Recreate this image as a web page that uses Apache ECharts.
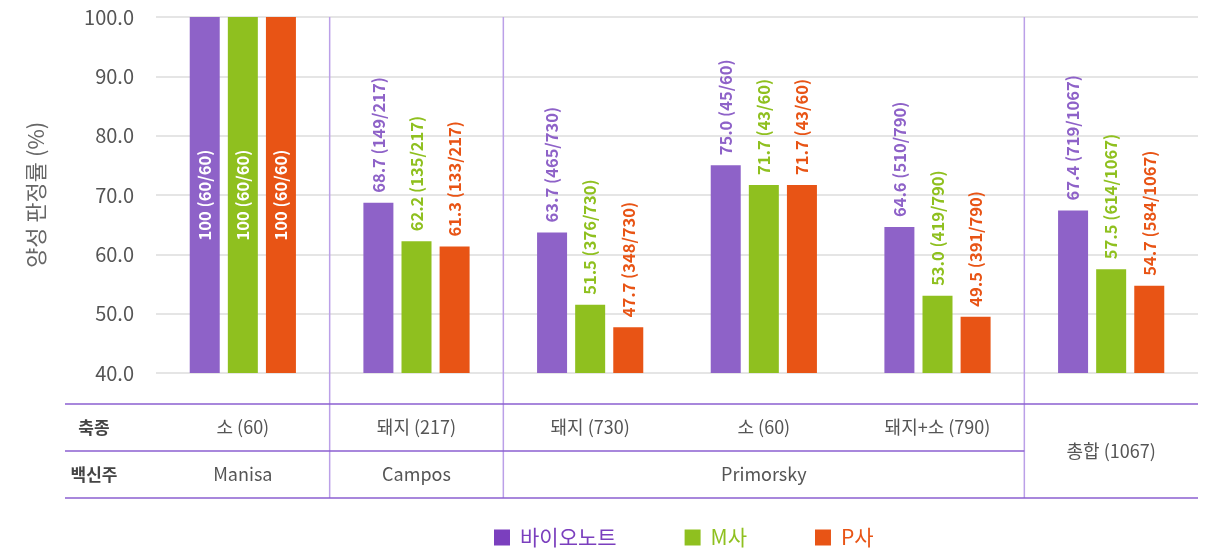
<!DOCTYPE html>
<html>
<head>
<meta charset="utf-8">
<script src="https://cdn.jsdelivr.net/npm/echarts@6/dist/echarts.min.js"></script>
<style>
  html, body { margin: 0; padding: 0; background: #fff; }
  #chart { width: 1208px; height: 549px; }
</style>
</head>
<body>
<div id="chart"></div>
<script>
// groups along the x axis (one per column of the table below)
const categories = ['g0', 'g1', 'g2', 'g3', 'g4', 'g5']
const speciesLabels = ['소 (60)', '돼지 (217)', '돼지 (730)', '소 (60)', '돼지+소 (790)']
const strainLabels = [
  { name: 'Manisa', from: 0, to: 0 },
  { name: 'Campos', from: 1, to: 1 },
  { name: 'Primorsky', from: 2, to: 4 }
]
const totalLabel = '총합 (1067)'
const rowHeaders = ['축종', '백신주']
const separatorsAfter = [0, 1, 4]

const seriesNames = ['바이오노트', 'M사', 'P사']
const bioNoteValues = [100, 68.7, 63.7, 75.0, 64.6, 67.4]
const bioNoteCounts = ['60/60', '149/217', '465/730', '45/60', '510/790', '719/1067']
const mValues = [100, 62.2, 51.5, 71.7, 53.0, 57.5]
const mCounts = ['60/60', '135/217', '376/730', '43/60', '419/790', '614/1067']
const pValues = [100, 61.3, 47.7, 71.7, 49.5, 54.7]
const pCounts = ['60/60', '133/217', '348/730', '43/60', '391/790', '584/1067']

const barColors = ['#8e62c8', '#8fc01f', '#e85415']
const legendColors = ['#7b3fbe', '#8fc01f', '#e85415']
const FONT = '"Noto Sans CJK KR", "Noto Sans", sans-serif'

const chart = echarts.init(document.getElementById('chart'))

const makeSeries = (name, values, counts, idx) => ({
  name,
  type: 'bar',
  barWidth: 30,
  barGap: '27%',
  itemStyle: { color: barColors[idx] },
  data: values.map((v, i) => {
    const full = v >= 100
    return {
      value: v,
      label: {
        show: true,
        rotate: 90,
        position: full ? 'inside' : 'top',
        align: full ? 'center' : 'left',
        verticalAlign: 'middle',
        distance: 10,
        color: full ? '#fff' : barColors[idx],
        formatter: () => (full ? '100' : v.toFixed(1)) + ' (' + counts[i] + ')'
      }
    }
  }),
  label: { fontFamily: FONT, fontSize: 16.5, fontWeight: 'bold' }
})

chart.setOption({
  animation: false,
  textStyle: { fontFamily: FONT },
  grid: { left: 156, right: 10, top: 17, bottom: 176 },
  legend: {
    left: 489,
    top: 522,
    icon: 'rect',
    itemWidth: 16,
    itemHeight: 16,
    itemGap: 68,
    textStyle: { fontSize: 21, fontFamily: FONT, padding: [0, 0, 0, 5] },
    data: seriesNames.map((n, i) => ({
      name: n,
      itemStyle: { color: legendColors[i] },
      textStyle: { color: legendColors[i] }
    }))
  },
  xAxis: {
    type: 'category',
    data: categories,
    axisLine: { show: false },
    axisTick: { show: false },
    axisLabel: { show: false }
  },
  yAxis: {
    type: 'value',
    min: 40,
    max: 100,
    interval: 10,
    name: '양성 판정률 (%)',
    nameLocation: 'middle',
    nameGap: 109,
    nameTextStyle: { fontSize: 22, color: '#666', fontFamily: FONT },
    axisLine: { show: false },
    axisTick: { show: false },
    axisLabel: {
      fontSize: 20,
      color: '#555',
      margin: 22,
      formatter: v => v.toFixed(1)
    },
    splitLine: { lineStyle: { color: '#dcdcdc', width: 1.5 } }
  },
  series: [
    makeSeries(seriesNames[0], bioNoteValues, bioNoteCounts, 0),
    makeSeries(seriesNames[1], mValues, mCounts, 1),
    makeSeries(seriesNames[2], pValues, pCounts, 2)
  ]
})

// table under the plot, placed from the category axis
const drawTable = () => {
  const cx = i => chart.convertToPixel({ xAxisIndex: 0 }, categories[i])
  const band = cx(1) - cx(0)
  const top = chart.convertToPixel({ yAxisIndex: 0 }, 100)
  const tableLeft = 65
  const tableRight = cx(categories.length - 1) + band / 2
  const rowY = [404, 451, 498]
  const lineColor = '#8b5fd0'
  const sepColor = '#bba0e8'
  const els = []

  const sepX = separatorsAfter.map(i => cx(i) + band / 2)
  sepX.forEach(x => {
    els.push({ type: 'line', shape: { x1: x, y1: top, x2: x, y2: rowY[2] },
      style: { stroke: sepColor, lineWidth: 1.5 } })
  })
  els.push({ type: 'line', shape: { x1: tableLeft, y1: rowY[0], x2: tableRight, y2: rowY[0] },
    style: { stroke: lineColor, lineWidth: 1.5 } })
  els.push({ type: 'line', shape: { x1: tableLeft, y1: rowY[1], x2: sepX[2], y2: rowY[1] },
    style: { stroke: lineColor, lineWidth: 1.5 } })
  els.push({ type: 'line', shape: { x1: tableLeft, y1: rowY[2], x2: tableRight, y2: rowY[2] },
    style: { stroke: lineColor, lineWidth: 1.5 } })

  const text = (x, y, t, bold) => ({
    type: 'text', x, y,
    style: { text: t, align: 'center', verticalAlign: 'middle', fontFamily: FONT,
      fontSize: bold ? 17 : 18, fontWeight: bold ? 'bold' : 'normal', fill: bold ? '#444' : '#555' }
  })
  const r1 = (rowY[0] + rowY[1]) / 2
  const r2 = (rowY[1] + rowY[2]) / 2
  els.push(text(94, r1, rowHeaders[0], true))
  els.push(text(94, r2, rowHeaders[1], true))
  speciesLabels.forEach((s, i) => els.push(text(cx(i), r1, s)))
  strainLabels.forEach(s => els.push(text((cx(s.from) + cx(s.to)) / 2, r2, s.name)))
  els.push(text(cx(categories.length - 1), rowY[1], totalLabel))

  chart.setOption({ graphic: { elements: els } })
}
drawTable()
</script>
</body>
</html>
